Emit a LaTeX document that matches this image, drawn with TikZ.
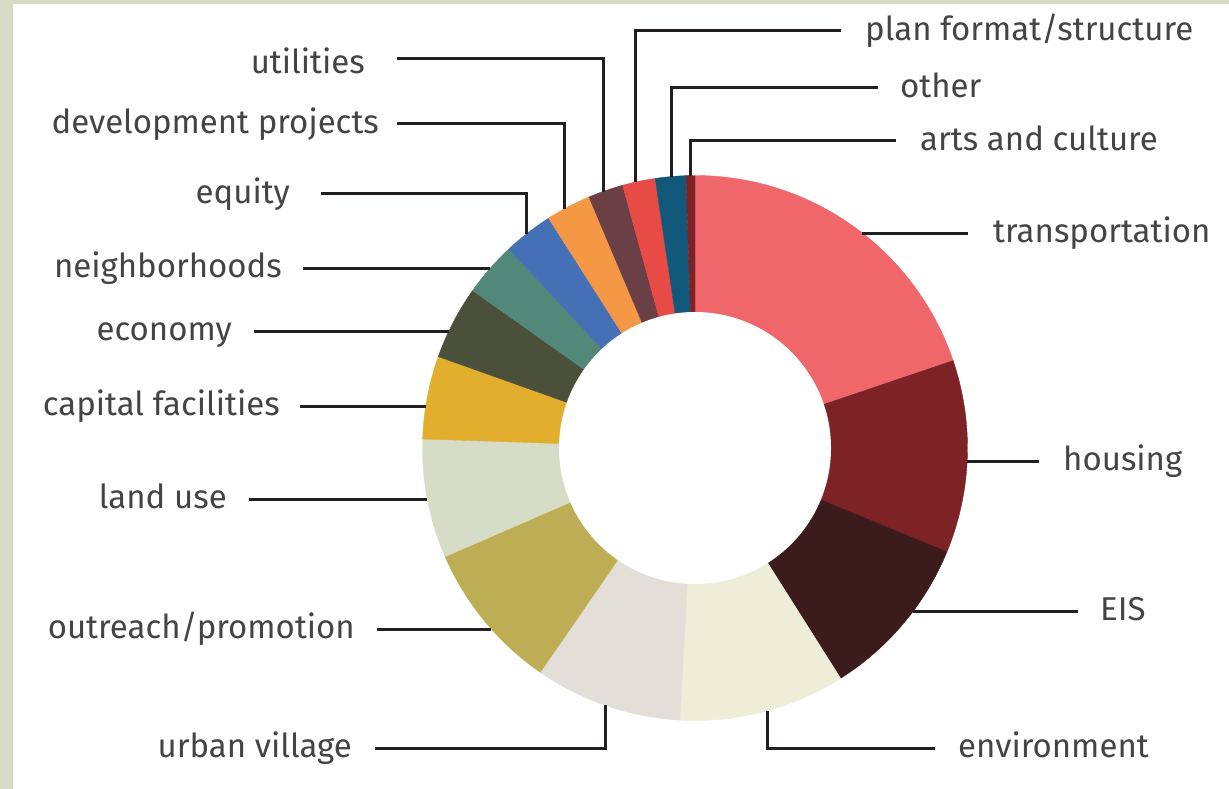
\documentclass[tikz,border=0pt]{standalone}
\usepackage{fontspec}
\setmainfont{Fira Sans}
\usetikzlibrary{calc}
\definecolor{bggreen}{HTML}{D8DCC6}
\definecolor{cTrans}{HTML}{F0676B}
\definecolor{cHous}{HTML}{7D2326}
\definecolor{cEIS}{HTML}{3C1B1C}
\definecolor{cEnv}{HTML}{EDEDD8}
\definecolor{cUrb}{HTML}{E4DED8}
\definecolor{cOut}{HTML}{BDAE55}
\definecolor{cLand}{HTML}{D6DCC6}
\definecolor{cCap}{HTML}{E2AE2E}
\definecolor{cEco}{HTML}{4B503A}
\definecolor{cNeig}{HTML}{52887A}
\definecolor{cEqu}{HTML}{4670B5}
\definecolor{cDev}{HTML}{F49846}
\definecolor{cUtil}{HTML}{6B3F46}
\definecolor{cPlan}{HTML}{E84A45}
\definecolor{cOther}{HTML}{11587A}
\definecolor{cArts}{HTML}{7D2326}
\definecolor{lineblack}{HTML}{231F20}
\definecolor{txtgray}{HTML}{444444}
\tikzset{
  lab/.style={font=\fontsize{33}{40}\selectfont, text=txtgray, inner ysep=0pt, inner xsep=22pt},
  conn/.style={draw=lineblack, line width=3pt},
}
\begin{document}
\begin{tikzpicture}[x=1pt,y=-1pt]
\useasboundingbox (0,0) rectangle (1229,789);
\fill[bggreen] (0,0) rectangle (1229,789);
\fill[white] (13,4) rectangle (1229,789);
\coordinate (C) at (695,448);
% slices (angles clockwise from east on screen)
\foreach \a/\b/\c in {-90/-18.7/cTrans, -18.7/22.4/cHous, 22.4/57.7/cEIS, 57.7/93.2/cEnv,
  93.2/124.6/cUrb, 124.6/156.5/cOut, 156.5/181.9/cLand, 181.9/199.6/cCap,
  199.6/215.3/cEco, 215.3/226.9/cNeig, 226.9/237.5/cEqu, 237.5/247.1/cDev,
  247.1/254.6/cUtil, 254.6/261.6/cPlan, 261.6/268.1/cOther, 268.1/270/cArts}
  \fill[\c, draw=\c, line width=0.4pt] (C) -- ++(\a:272.5) arc[start angle=\a, end angle=\b, radius=272.5] -- cycle;
\fill[white] (C) circle[radius=136];
% connector points on the ring
\coordinate (pTrans) at (862.4,233);
\coordinate (pHous) at (967,461);
\coordinate (pEIS) at (913.4,611);
\coordinate (pEnv) at (767,710.8);
\coordinate (pUrb) at (605,705.2);
\coordinate (pOut) at (491.3,629);
\coordinate (pLand) at (427.3,499);
\coordinate (pCap) at (425.8,406);
\coordinate (pEco) at (448.9,331);
\coordinate (pNeig) at (490.4,268);
\coordinate (pEqu) at (526,234.2);
\coordinate (pDev) at (564,209.1);
\coordinate (pUtil) at (603,191.5);
\coordinate (pPlan) at (635,182.2);
\coordinate (pOther) at (671,176.6);
\coordinate (pArts) at (690,175.5);
% labels, right side (baseline 9.5 below the connector)
\node[lab, anchor=base west, inner xsep=25pt] (lTrans) at (968,242.5) {transportation};
\node[lab, anchor=base west, inner xsep=24pt] (lHous) at (1039,470.5) {housing};
\node[lab, anchor=base west, inner xsep=22pt] (lEIS) at (1078,620.5) {EIS};
\node[lab, anchor=base west, inner xsep=23pt] (lEnv) at (935,757.5) {environment};
\node[lab, anchor=base west, inner xsep=24pt] (lPlan) at (841,40.5) {plan format/structure};
\node[lab, anchor=base west, inner xsep=22pt] (lOther) at (878,97.5) {other};
\node[lab, anchor=base west, inner xsep=24pt] (lArts) at (896,150.5) {arts and culture};
% labels, left side
\node[lab, anchor=base east, inner xsep=32pt] (lUtil) at (397,74) {utilities};
\node[lab, anchor=base east, inner xsep=18pt] (lDev) at (397,133.5) {development projects};
\node[lab, anchor=base east, inner xsep=31pt] (lEqu) at (321,203.5) {equity};
\node[lab, anchor=base east, inner xsep=21pt] (lNeig) at (303,277.5) {neighborhoods};
\node[lab, anchor=base east, inner xsep=22pt] (lEco) at (254,340.5) {economy};
\node[lab, anchor=base east, inner xsep=20pt] (lCap) at (300,415.5) {capital facilities};
\node[lab, anchor=base east, inner xsep=22pt] (lLand) at (249,508.5) {land use};
\node[lab, anchor=base east, inner xsep=22pt] (lOut) at (377,638.5) {outreach/promotion};
\node[lab, anchor=base east, inner xsep=23pt] (lUrb) at (375,757.5) {urban village};
% connectors
\draw[conn] (pTrans) -- ([yshift=9.5pt]lTrans.base west);
\draw[conn] (pHous) -- ([yshift=9.5pt]lHous.base west);
\draw[conn] (pEIS) -- ([yshift=9.5pt]lEIS.base west);
\draw[conn] (pEnv) |- ([yshift=9.5pt]lEnv.base west);
\draw[conn] (pPlan) |- ([yshift=9.5pt]lPlan.base west);
\draw[conn] (pOther) |- ([yshift=9.5pt]lOther.base west);
\draw[conn] (pArts) |- ([yshift=9.5pt]lArts.base west);
\draw[conn] (pUtil) |- ([yshift=15pt]lUtil.base east);
\draw[conn] (pDev) |- ([yshift=9.5pt]lDev.base east);
\draw[conn] (pEqu) |- ([yshift=10.5pt]lEqu.base east);
\draw[conn] (pNeig) -- ([yshift=9.5pt]lNeig.base east);
\draw[conn] (pEco) -- ([yshift=9.5pt]lEco.base east);
\draw[conn] (pCap) -- ([yshift=9.5pt]lCap.base east);
\draw[conn] (pLand) -- ([yshift=9.5pt]lLand.base east);
\draw[conn] (pOut) -- ([yshift=9.5pt]lOut.base east);
\draw[conn] (pUrb) |- ([yshift=9.5pt]lUrb.base east);
\end{tikzpicture}
\end{document}
